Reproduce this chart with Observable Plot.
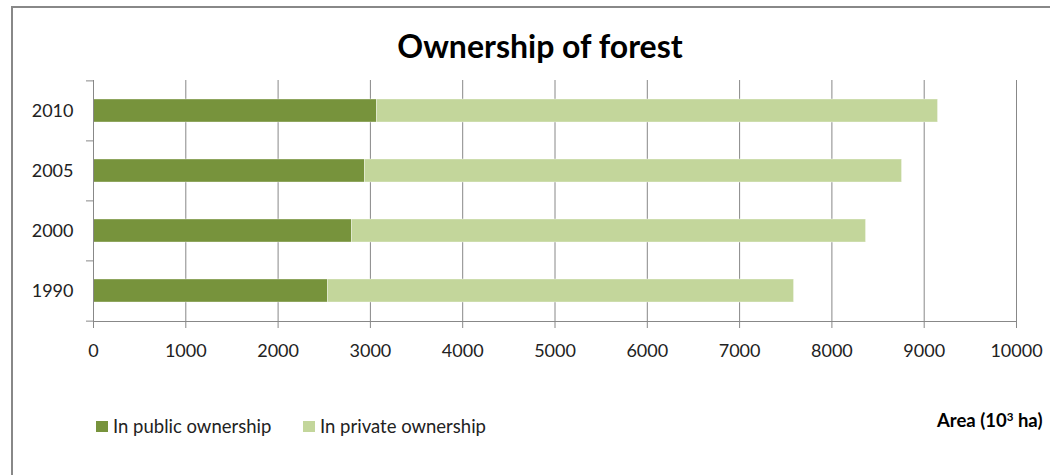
<!DOCTYPE html>
<html>
<head>
<meta charset="utf-8">
<script src="https://cdn.jsdelivr.net/npm/d3@7"></script>
<script src="https://cdn.jsdelivr.net/npm/@observablehq/plot@0.6"></script>
<style>
  html, body { margin: 0; padding: 0; background: #fff; }
  body { width: 1050px; height: 475px; position: relative; overflow: hidden; font-family: Lato, "Open Sans", sans-serif; }
  #frame { position: absolute; left: 11px; top: 6px; width: 1200px; height: 600px; border-left: 2px solid #888; border-top: 2px solid #888; box-sizing: border-box; }
  #title { position: absolute; left: 0; width: 1080px; top: 28px; text-align: center; font-size: 32px; font-weight: bold; line-height: 36px; color: #000; }
  #chart { position: absolute; left: 0; top: 0; }
  .legend { position: absolute; top: 416px; font-size: 18.5px; line-height: 20px; color: #222; display: flex; align-items: center; white-space: nowrap; }
  .sw { width: 12px; height: 11px; margin-right: 5px; display: inline-block; }
  #xlabel { position: absolute; left: 937px; top: 410px; font-size: 18.5px; font-weight: bold; line-height: 20px; color: #000; white-space: nowrap; }
  #xlabel sup { font-size: 11.5px; vertical-align: 6px; line-height: 0; }
</style>
</head>
<body>
<div id="frame"></div>
<div id="chart"></div>
<div id="title">Ownership of forest</div>
<div id="legend"></div>
<div id="xlabel">Area (10<sup>3</sup> ha)</div>
<script>
const years = ["2010", "2005", "2000", "1990"];
const publicOwnership = [3070, 2940, 2800, 2540];
const privateOwnership = [6080, 5820, 5570, 5050];
const seriesNames = ["In public ownership", "In private ownership"];
const seriesColors = ["#77933C", "#C3D69B"];
const xTicks = [0, 1000, 2000, 3000, 4000, 5000, 6000, 7000, 8000, 9000, 10000];

const data = [];
years.forEach((y, i) => {
  data.push({year: y, series: seriesNames[0], value: publicOwnership[i]});
  data.push({year: y, series: seriesNames[1], value: privateOwnership[i]});
});

const W = 1050, H = 475, mTop = 80, mBottom = 154, mLeft = 93, mRight = 34;
const step = (H - mTop - mBottom) / years.length;
const grey = "#888888";

const chart = Plot.plot({
  width: W,
  height: H,
  marginTop: mTop,
  marginBottom: mBottom,
  marginLeft: mLeft,
  marginRight: mRight,
  style: {fontFamily: "Lato, 'Open Sans', sans-serif", fontSize: "18px", color: "#222", background: "transparent"},
  x: {domain: [0, 10000], ticks: xTicks},
  y: {domain: years, paddingInner: 0.61, paddingOuter: 0.305},
  color: {domain: seriesNames, range: seriesColors},
  marks: [
    Plot.gridX({ticks: xTicks, stroke: grey, strokeOpacity: 1}),
    Plot.barX(data, Plot.stackX({x: "value", y: "year", fill: "series", order: seriesNames, stroke: "#fff", strokeWidth: 0.6, strokeOpacity: 0.6})),
    Plot.ruleX([0], {stroke: grey}),
    Plot.frame({anchor: "bottom", stroke: grey}),
    Plot.axisX({ticks: xTicks, tickSize: 7, tickPadding: 16, stroke: grey, color: "#222", label: null, tickFormat: d => String(d)}),
    Plot.axisY({tickSize: 0, tickPadding: 20, label: null, color: "#222"}),
    Plot.axisY({ticks: years, tickSize: 7, tickFormat: () => "", dy: -step / 2, stroke: grey, label: null}),
    Plot.axisY({ticks: [years[years.length - 1]], tickSize: 7, tickFormat: () => "", dy: step / 2, stroke: grey, label: null})
  ]
});
document.getElementById("chart").appendChild(chart);

const legendPos = [96, 303];
const legend = document.getElementById("legend");
seriesNames.forEach((name, i) => {
  const item = document.createElement("div");
  item.className = "legend";
  item.style.left = legendPos[i] + "px";
  const sw = document.createElement("span");
  sw.className = "sw";
  sw.style.background = seriesColors[i];
  item.appendChild(sw);
  item.appendChild(document.createTextNode(name));
  legend.appendChild(item);
});
</script>
</body>
</html>
